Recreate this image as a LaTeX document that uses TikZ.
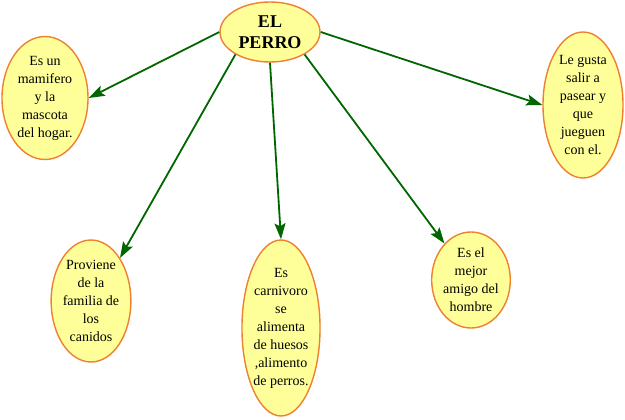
\documentclass[tikz,border=0pt]{standalone}
\usepackage{fontspec}
\setmainfont{Liberation Serif}
\usetikzlibrary{shapes.geometric,arrows.meta}
\definecolor{bubfill}{HTML}{FFFF99}
\definecolor{bubline}{HTML}{EE8030}
\definecolor{arrgreen}{HTML}{006600}
\tikzset{
  bubble/.style={ellipse, draw=bubline, line width=1.4pt, fill=bubfill, inner sep=0pt,
    align=center, font=\fontsize{14}{18}\selectfont},
  link/.style={draw=arrgreen, line width=1.8pt, -{Stealth[length=16pt,width=11pt,inset=3pt]}}
}
\begin{document}
\begin{tikzpicture}[x=1pt,y=-1pt]
\useasboundingbox (0,0) rectangle (625,420);
\node[bubble, minimum width=100, minimum height=60, font=\fontsize{18}{21}\selectfont\bfseries] (c) at (270,32) {EL\\PERRO};
\node[bubble, minimum width=86, minimum height=123] (a) at (45,98) {Es un\\mamifero\\y la\\mascota\\del hogar.};
\node[bubble, minimum width=76, minimum height=122] (b) at (91,301) {Proviene\\de la\\familia de\\los\\canidos};
\node[bubble, minimum width=78, minimum height=176] (d) at (281,328) {Es\\carnivoro\\se\\alimenta\\de huesos\\,alimento\\de perros.};
\node[bubble, minimum width=74, minimum height=96] (e) at (471,280) {Es el\\mejor\\amigo del\\hombre};
\node[bubble, minimum width=80, minimum height=146] (f) at (583,105) {Le gusta\\salir a\\pasear y\\que\\jueguen\\con el.};
\draw[link] (c.west) -- (a.east);
\draw[link] (c.213) -- (b.56);
\draw[link] (c.south) -- (d.north);
\draw[link] (c.327) -- (e.126);
\draw[link] (c.east) -- (f.west);
\end{tikzpicture}
\end{document}
